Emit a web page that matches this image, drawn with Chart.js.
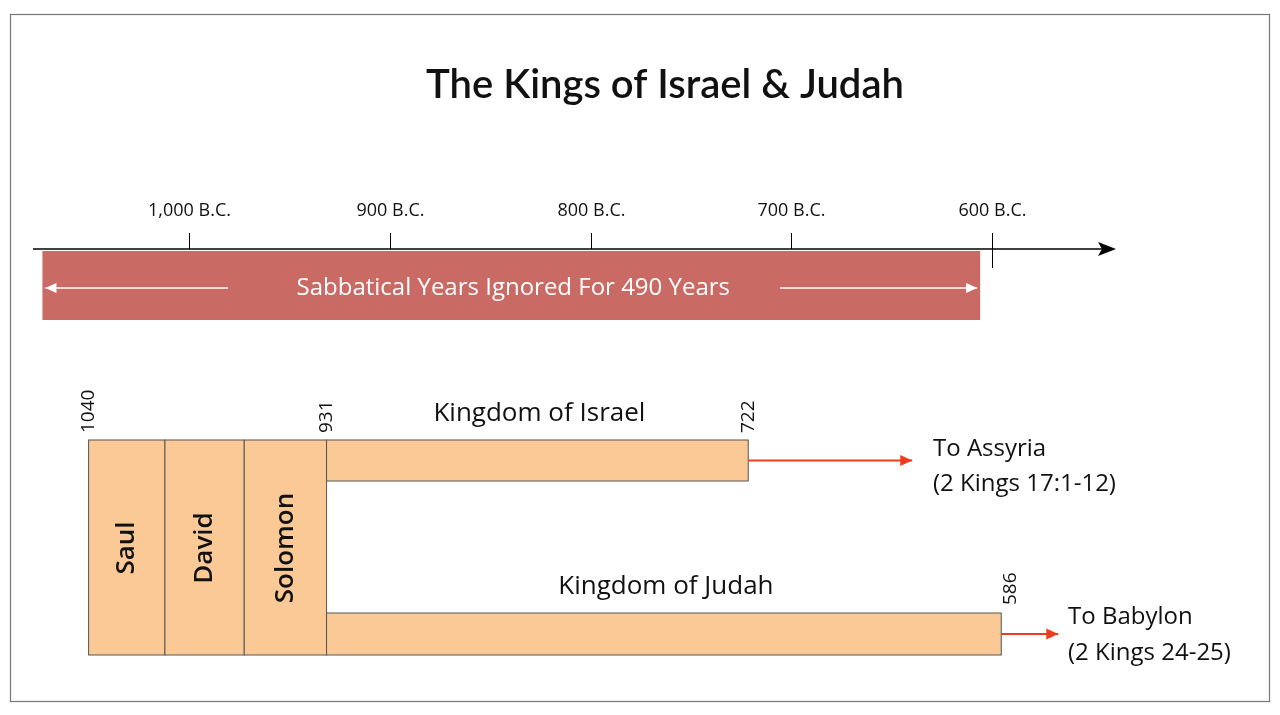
<!DOCTYPE html>
<html><head><meta charset="utf-8">
<script src="https://cdn.jsdelivr.net/npm/chart.js@4/dist/chart.umd.min.js"></script>
<style>html,body{margin:0;padding:0;background:#fff}#w{width:1280px;height:715px}</style>
</head><body><div id="w"><canvas id="c"></canvas></div>
<script>
// ---- data (years B.C.) ----
const tickYears = [1000, 900, 800, 700, 600];
const tickLabels = ["1,000 B.C.", "900 B.C.", "800 B.C.", "700 B.C.", "600 B.C."];
const sabbaticalSpan = [1073, 606];
const sabbaticalLabel = "Sabbatical Years Ignored For 490 Years";
const kingNames = ["Saul", "David", "Solomon"];
const kingStarts = [1050, 1012, 972.5];
const kingEnds = [1012, 972.5, 931.5];
const kingdomNames = ["Kingdom of Israel", "Kingdom of Judah"];
const kingdomStarts = [931.5, 931.5];
const kingdomEnds = [721.5, 595.5];
const yearMarks = ["1040", "931", "722", "586"];
const yearMarkPos = [1050, 931.5, 721.5, 595.5];
const exileTo = ["To Assyria", "To Babylon"];
const exileRef = ["(2 Kings 17:1-12)", "(2 Kings 24-25)"];

const FONT = "'Open Sans', sans-serif";
const draw = {
  id: 'draw',
  afterDraw(ch) {
    const c = ch.ctx, X = v => ch.scales.x.getPixelForValue(v), Y = v => ch.scales.y.getPixelForValue(v);
    c.save();
    c.strokeStyle = '#777'; c.lineWidth = 1.2; c.strokeRect(10.5, 14.5, 1259, 687);
    c.fillStyle = '#111'; c.textAlign = 'center'; c.textBaseline = 'middle';
    c.font = "600 40px Lato, 'Open Sans', sans-serif";
    c.fillText("The Kings of Israel & Judah", 665, 85);
    const sx0 = X(sabbaticalSpan[0]), sx1 = X(sabbaticalSpan[1]);
    c.fillStyle = '#c96a64'; c.fillRect(sx0, Y(251), sx1 - sx0, Y(320) - Y(251));
    c.fillStyle = '#fff'; c.font = "500 24px " + FONT;
    c.fillText(sabbaticalLabel, (sx0 + sx1) / 2 + 2, Y(288));
    c.lineWidth = 1.5;
    const arr = (x0, x1, y, col, head) => {
      c.strokeStyle = col; c.fillStyle = col;
      c.beginPath(); c.moveTo(x0, y); c.lineTo(x1, y); c.stroke();
      const d = x1 > x0 ? 1 : -1;
      c.beginPath(); c.moveTo(x1, y); c.lineTo(x1 - d * head, y - head * 0.45); c.lineTo(x1 - d * head, y + head * 0.45); c.closePath(); c.fill();
    };
    arr(228, sx0 + 3, Y(288), '#fff', 11);
    arr(780, sx1 - 3, Y(288), '#fff', 11);
    c.strokeStyle = '#000'; c.lineWidth = 1.5;
    c.beginPath(); c.moveTo(33, Y(249)); c.lineTo(1105, Y(249)); c.stroke();
    c.fillStyle = '#000';
    c.beginPath(); c.moveTo(1116, Y(249)); c.lineTo(1098, Y(242)); c.lineTo(1102, Y(249)); c.lineTo(1098, Y(256)); c.closePath(); c.fill();
    c.lineWidth = 1; c.strokeStyle = '#000'; c.font = "400 18px " + FONT; c.fillStyle = '#111';
    tickYears.forEach((t, i) => {
      const x = Math.round(X(t)) + 0.5;
      c.beginPath(); c.moveTo(x, Y(233)); c.lineTo(x, Y(i === tickYears.length - 1 ? 268 : 249)); c.stroke();
      c.fillText(tickLabels[i], x, Y(211));
    });
    c.lineWidth = 1; c.strokeStyle = '#555';
    kingNames.forEach((n, i) => {
      const x0 = X(kingStarts[i]), x1 = X(kingEnds[i]);
      c.fillStyle = '#fbc995'; c.fillRect(x0, Y(440), x1 - x0, Y(655) - Y(440));
      c.strokeRect(x0, Y(440), x1 - x0, Y(655) - Y(440));
      c.save(); c.translate((x0 + x1) / 2, Y(548)); c.rotate(-Math.PI / 2);
      c.fillStyle = '#111'; c.font = "600 26px " + FONT; c.fillText(n, 0, 0); c.restore();
    });
    const kTop = [440, 613], kBot = [481, 655], kLab = [414, 587];
    kingdomNames.forEach((n, i) => {
      const x0 = X(kingdomStarts[i]), x1 = X(kingdomEnds[i]);
      c.fillStyle = '#fbc995'; c.fillRect(x0, Y(kTop[i]), x1 - x0, Y(kBot[i]) - Y(kTop[i]));
      c.strokeStyle = '#555'; c.lineWidth = 1;
      c.strokeRect(x0, Y(kTop[i]), x1 - x0, Y(kBot[i]) - Y(kTop[i]));
      c.fillStyle = '#111'; c.font = "500 26px " + FONT; c.fillText(n, (x0 + x1) / 2 + 2, Y(kLab[i]));
      const ay = (Y(kTop[i]) + Y(kBot[i])) / 2;
      c.lineWidth = 2; arr(x1, x1 + (i === 0 ? 164 : 57), ay, '#f03c1e', 12);
      c.fillStyle = '#111'; c.textAlign = 'left'; c.font = "500 24px " + FONT;
      const tx = i === 0 ? 933 : 1068;
      c.fillText(exileTo[i], tx, Y(i === 0 ? 449 : 617));
      c.fillText(exileRef[i], tx, Y(i === 0 ? 484 : 653));
      c.textAlign = 'center';
    });
    c.font = "400 19px " + FONT; c.fillStyle = '#111'; c.textAlign = 'left';
    yearMarks.forEach((m, i) => {
      c.save(); c.translate(X(yearMarkPos[i]) + (i === 3 ? 9 : 0), Y(i === 3 ? 605 : 433)); c.rotate(-Math.PI / 2);
      c.fillText(m, 0, 0); c.restore();
    });
    c.restore();
  }
};

new Chart(document.getElementById('c'), {
  type: 'scatter',
  data: { datasets: [{ data: [], pointRadius: 0 }] },
  options: {
    responsive: true, maintainAspectRatio: false, animation: false,
    layout: { padding: 0 },
    plugins: { legend: { display: false }, tooltip: { enabled: false } },
    scales: {
      x: { type: 'linear', reverse: true, min: 1000 + 189 / 2.008, max: 1000 - (1280 - 189) / 2.008, display: false },
      y: { type: 'linear', reverse: true, min: 0, max: 715, display: false }
    }
  },
  plugins: [draw]
});
</script></body></html>
